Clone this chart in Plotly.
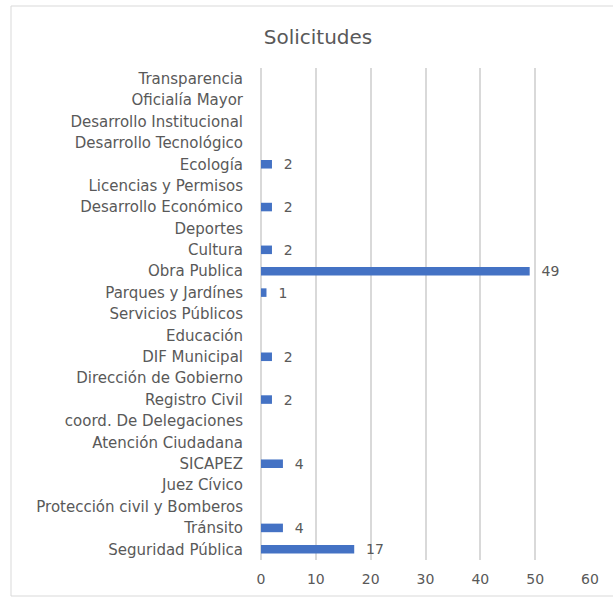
import plotly.graph_objects as go

categories = [
    "Seguridad Pública", "Tránsito", "Protección civil y Bomberos", "Juez Cívico",
    "SICAPEZ", "Atención Ciudadana", "coord. De Delegaciones", "Registro Civil",
    "Dirección de Gobierno", "DIF Municipal", "Educación", "Servicios Públicos",
    "Parques y Jardínes", "Obra Publica", "Cultura", "Deportes",
    "Desarrollo Económico", "Licencias y Permisos", "Ecología",
    "Desarrollo Tecnológico", "Desarrollo Institucional", "Oficialía Mayor", "Transparencia",
]
values = [17, 4, None, None, 4, None, None, 2, None, 2, None, None, 1, 49, 2, None, 2, None, 2, None, None, None, None]
labels = ["" if v is None else "  " + str(v) for v in values]
x_ticks = [0, 10, 20, 30, 40, 50, 60]

GRAY = "#595959"
FONT = "DejaVu Sans"
fig = go.Figure(go.Bar(
    y=categories, x=values, orientation="h",
    marker=dict(color="#4472C4", line=dict(width=0)),
    width=0.4,
    text=labels, textposition="outside", cliponaxis=False, constraintext="none",
    textfont=dict(family=FONT, size=14, color=GRAY),
))
x_left = (11 - 261) / 329
x_right = (620 - 261) / 329
y_bot = (560 - 596) / 492
y_top = 1 + (68 - 6) / 492
border = dict(color="#d9d9d9", width=1)
fig.update_layout(
    width=613, height=597,
    margin=dict(l=261, r=23, t=68, b=37, autoexpand=False),
    paper_bgcolor="white", plot_bgcolor="white",
    title=dict(text="Solicitudes", x=318 / 613, xref="container", y=1 - 37 / 597,
               yref="container", yanchor="middle", xanchor="center",
               font=dict(family=FONT, size=20, color=GRAY)),
    font=dict(family=FONT, size=15, color=GRAY),
    showlegend=False,
    xaxis=dict(range=[0, 60], tickvals=x_ticks, showgrid=True, gridcolor="#d9d9d9",
               gridwidth=1.5, zeroline=True, zerolinecolor="#d9d9d9", zerolinewidth=1.5,
               showline=False, ticks="", ticklabelstandoff=9,
               tickfont=dict(family=FONT, size=14, color=GRAY)),
    yaxis=dict(categoryorder="array", categoryarray=categories, showgrid=False,
               ticks="", ticklabelstandoff=17, automargin=False,
               tickfont=dict(family=FONT, size=15, color=GRAY)),
    shapes=[
        dict(type="line", xref="paper", yref="paper", x0=x_left, x1=x_right, y0=y_top, y1=y_top, line=border, layer="below"),
        dict(type="line", xref="paper", yref="paper", x0=x_left, x1=x_left, y0=y_bot, y1=y_top, line=border, layer="below"),
        dict(type="line", xref="paper", yref="paper", x0=x_left, x1=x_right, y0=y_bot, y1=y_bot, line=border, layer="below"),
    ],
)
fig.write_html("out.html", config={"displayModeBar": False},
               post_script="document.body.style.margin='0';document.body.style.overflow='hidden';")
